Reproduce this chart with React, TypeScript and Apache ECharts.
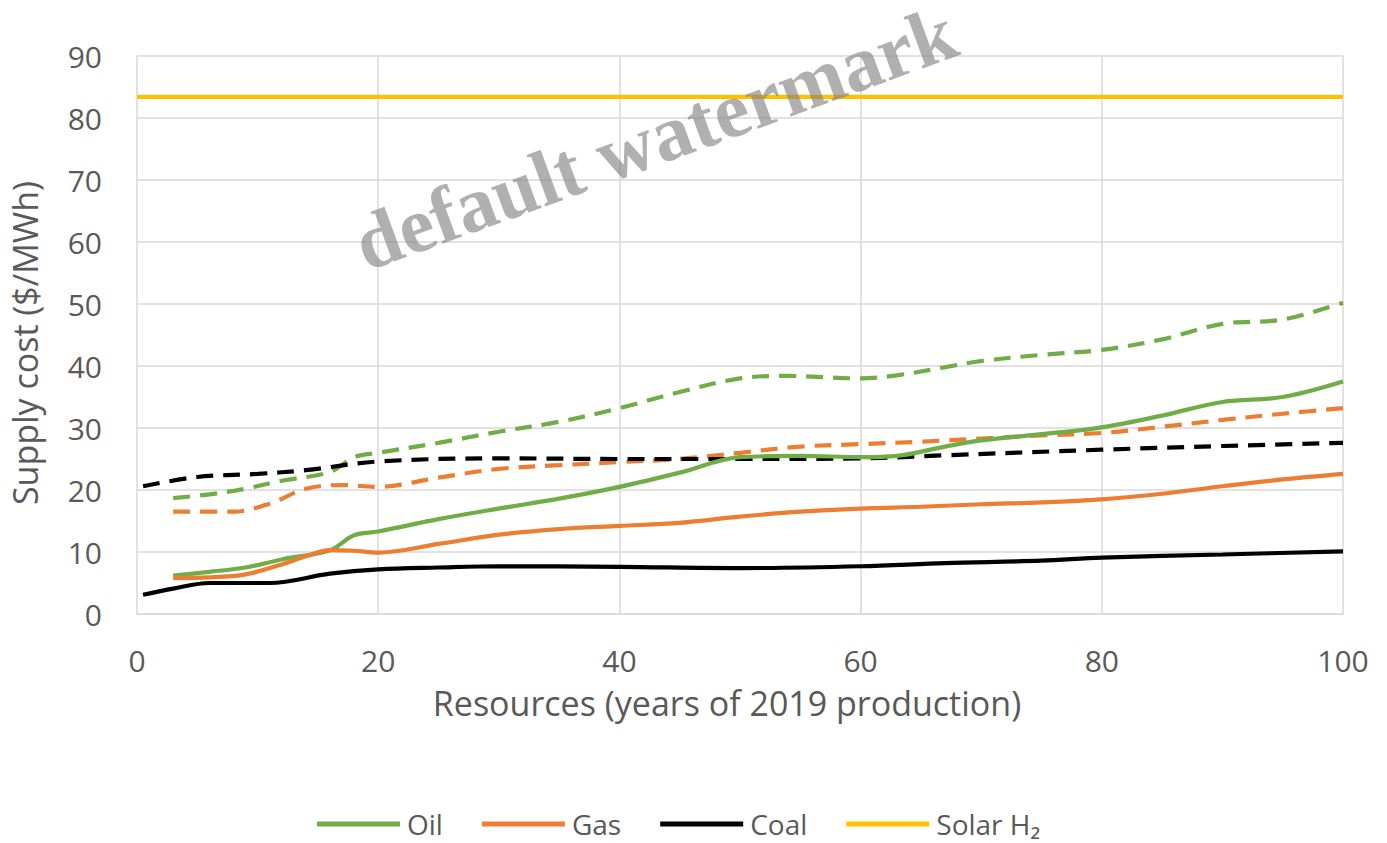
import React, { useEffect, useRef } from "react";
import * as echarts from "echarts";

// ---- Data ----
const oilX = [3, 6, 9, 12, 16, 18, 20, 25, 30, 35, 40, 45, 50, 55, 60, 63, 67, 70, 75, 80, 85, 90, 95, 100];
const oilY = [6.2, 6.8, 7.5, 8.8, 10.3, 12.7, 13.3, 15.3, 17.0, 18.6, 20.5, 22.8, 25.3, 25.5, 25.3, 25.5, 27.0, 28.0, 29.0, 30.1, 32.0, 34.2, 35.0, 37.5];

const oilHighX = [3, 6, 9, 12, 16, 18, 20, 25, 30, 35, 40, 45, 50, 54, 60, 63, 67, 70, 75, 80, 85, 90, 95, 100];
const oilHighY = [18.7, 19.3, 20.2, 21.5, 22.9, 25.3, 26.0, 27.6, 29.4, 31.0, 33.2, 35.8, 38.0, 38.4, 38.0, 38.5, 39.8, 40.8, 41.8, 42.6, 44.3, 46.8, 47.5, 50.2];

const gasX = [3, 6, 9, 12, 14, 16, 18, 20, 25, 30, 35, 40, 45, 50, 55, 60, 65, 70, 75, 80, 85, 90, 95, 100];
const gasY = [5.8, 5.9, 6.4, 8.0, 9.3, 10.3, 10.2, 9.9, 11.3, 12.8, 13.7, 14.2, 14.7, 15.7, 16.5, 17.0, 17.3, 17.7, 18.0, 18.5, 19.4, 20.6, 21.7, 22.6];

const gasHighX = [3, 8, 11, 14, 17, 20, 25, 30, 35, 40, 45, 50, 55, 60, 65, 70, 75, 80, 85, 90, 95, 100];
const gasHighY = [16.5, 16.5, 17.8, 20.2, 20.8, 20.5, 22.0, 23.4, 24.0, 24.5, 25.0, 26.0, 27.0, 27.4, 27.8, 28.3, 28.8, 29.2, 30.2, 31.3, 32.3, 33.2];

const coalX = [0.5, 3, 6, 11, 16, 20, 25, 30, 40, 50, 60, 67, 75, 80, 90, 100];
const coalY = [3.1, 4.1, 5.0, 5.0, 6.5, 7.2, 7.5, 7.7, 7.6, 7.4, 7.7, 8.2, 8.6, 9.1, 9.6, 10.1];

const coalHighX = [0.5, 5, 10, 14, 20, 30, 40, 50, 60, 67, 80, 90, 100];
const coalHighY = [20.6, 22.1, 22.6, 23.2, 24.6, 25.1, 25.0, 25.0, 25.1, 25.6, 26.5, 27.1, 27.6];

const solarX = [0, 100];
const solarY = [83.4, 83.4];

const legendNames = ["Oil", "Gas", "Coal", "Solar H₂"];

const GREEN = "#70AD47";
const ORANGE = "#ED7D31";
const BLACK = "#000000";
const YELLOW = "#FFC000";
const TEXT = "#595959";
const GRID = "#D9D9D9";
const FONT = "Open Sans";

const zip = (xs: number[], ys: number[]) => xs.map((x, i) => [x, ys[i]]);

function lineSeries(name: string, xs: number[], ys: number[], color: string, dashed: boolean) {
  return {
    type: "line",
    name,
    data: zip(xs, ys),
    smooth: 0.35,
    symbol: "none",
    lineStyle: {
      color,
      width: 4.2,
      type: dashed ? [17, 10] : "solid",
      cap: "butt",
    },
    itemStyle: { color },
    z: dashed ? 2 : 3,
  };
}

export default function App() {
  const ref = useRef<HTMLDivElement>(null);

  useEffect(() => {
    if (!ref.current) return;
    const chart = echarts.init(ref.current, null, { renderer: "svg" });
    chart.setOption({
      animation: false,
      backgroundColor: "#FFFFFF",
      grid: { left: 133, right: 44, top: 56, bottom: 229, containLabel: false },
      xAxis: {
        type: "value",
        min: 0,
        max: 100,
        interval: 20,
        name: "Resources (years of 2019 production)",
        nameLocation: "middle",
        nameGap: 72,
        nameTextStyle: { fontFamily: FONT, fontSize: 34, color: TEXT, padding: [0, 26, 0, 0] },
        axisLine: { show: true, lineStyle: { color: GRID, width: 1.5 } },
        axisTick: { show: false },
        axisLabel: { fontFamily: FONT, fontSize: 30, color: TEXT, margin: 31 },
        splitLine: { show: true, lineStyle: { color: GRID, width: 1.5 } },
      },
      yAxis: {
        type: "value",
        min: 0,
        max: 90,
        interval: 10,
        name: "Supply cost ($/MWh)",
        nameLocation: "middle",
        nameGap: 95,
        nameRotate: 90,
        nameTextStyle: { fontFamily: FONT, fontSize: 34, color: TEXT, padding: [0, 16, 0, 0] },
        axisLine: { show: false },
        axisTick: { show: false },
        axisLabel: { fontFamily: FONT, fontSize: 30, color: TEXT, margin: 35 },
        splitLine: { show: true, lineStyle: { color: GRID, width: 1.5 } },
      },
      legend: {
        data: legendNames,
        left: 317,
        top: 810,
        icon: "rect",
        itemWidth: 83,
        itemHeight: 5,
        itemGap: 39,
        padding: 0,
        textStyle: { fontFamily: FONT, fontSize: 28, lineHeight: 28, color: TEXT, padding: [0, 0, 0, 2] },
      },
      series: [
        lineSeries("Oil", oilX, oilY, GREEN, false),
        lineSeries("Gas", gasX, gasY, ORANGE, false),
        lineSeries("Coal", coalX, coalY, BLACK, false),
        lineSeries("Solar H₂", solarX, solarY, YELLOW, false),
        lineSeries("Oil (high)", oilHighX, oilHighY, GREEN, true),
        lineSeries("Gas (high)", gasHighX, gasHighY, ORANGE, true),
        lineSeries("Coal (high)", coalHighX, coalHighY, BLACK, true),
      ],
      graphic: [
        {
          type: "text",
          x: 655,
          y: 138,
          rotation: 0.35,
          z: 100,
          silent: true,
          style: {
            text: "default watermark",
            fontFamily: "Liberation Serif",
            fontWeight: "bold",
            fontSize: 79,
            fill: "rgba(128,128,128,0.62)",
            align: "center",
            verticalAlign: "middle",
          },
        },
      ],
    });
    return () => chart.dispose();
  }, []);

  return (
    <div
      ref={ref}
      style={{ position: "fixed", left: 0, top: 0, width: 1387, height: 843, background: "#fff" }}
    />
  );
}
